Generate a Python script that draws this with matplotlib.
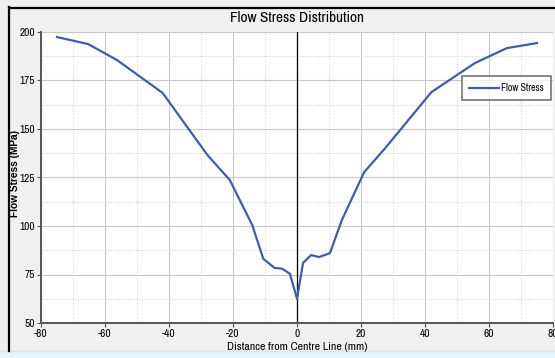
import matplotlib
matplotlib.use("Agg")
import matplotlib.pyplot as plt
from matplotlib import font_manager
from matplotlib.patches import Rectangle
from matplotlib.ticker import MultipleLocator

# Flow stress across the weld, measured from the centre line
distance_mm = [-75, -65.3, -56.3, -42, -28, -21, -14, -10.5, -7, -4.6, -2.2, 0,
               1.9, 4.4, 6.9, 10.3, 14, 21, 27.5, 42, 55.6, 65.6, 75]
flow_stress_mpa = [197.4, 193.8, 185.6, 168.6, 136.6, 123.7, 100.5, 83, 78.4, 78, 75.3, 62.5,
                   81, 85, 84, 86, 103, 127.8, 140, 169, 184, 191.7, 194.3]

title = "Flow Stress Distribution"
x_label = "Distance from Centre Line (mm)"
y_label = "Flow Stress (MPa)"
series_name = "Flow Stress"

plt.rcParams["axes.unicode_minus"] = False

# prefer a narrow sans face when one is installed
names = sorted({f.name for f in font_manager.fontManager.ttflist})
narrow_face = next((n for n in names if "Narrow" in n), None) or \
    next((n for n in names if "Condensed" in n and "Sans" in n), None)
narrow = [narrow_face, "Liberation Sans", "DejaVu Sans"] if narrow_face else ["Liberation Sans", "DejaVu Sans"]
scale = 1.0 if narrow_face else 0.86
regular = ["Liberation Sans", "DejaVu Sans"]

W, H = 555, 358
fig = plt.figure(figsize=(W / 100, H / 100), dpi=100, facecolor="#f0f0f0")

# bottom strip and outer frame
fig.patches.append(Rectangle((0, 0), 1, 7 / H, transform=fig.transFigure,
                             facecolor="#e4f6f9", edgecolor="none", zorder=0))
fig.lines.append(plt.Line2D([0, 1], [7.5 / H, 7.5 / H], transform=fig.transFigure,
                            color="#f3dede", lw=1))
fig.lines.append(plt.Line2D([8.5 / W, 8.5 / W], [7 / H, 1 - 7 / H], transform=fig.transFigure,
                            color="black", lw=1.6))
fig.lines.append(plt.Line2D([8.5 / W, 1], [1 - 7.5 / H, 1 - 7.5 / H], transform=fig.transFigure,
                            color="black", lw=1.6))

ax = fig.add_axes([41 / W, 1 - 323 / H, (553 - 41) / W, (323 - 32) / H])
ax.set_facecolor("white")

ax.set_xlim(-80, 80)
ax.set_ylim(50, 200)
ax.xaxis.set_major_locator(MultipleLocator(20))
ax.xaxis.set_minor_locator(MultipleLocator(10))
ax.yaxis.set_major_locator(MultipleLocator(25))
ax.yaxis.set_minor_locator(MultipleLocator(12.5))

ax.grid(which="major", color="#c8c8c8", lw=0.8, ls="-")
ax.grid(which="minor", color="#d6d6d6", lw=0.8, ls=(0, (1, 1.5)))
ax.set_axisbelow(True)

ax.axvline(0, color="black", lw=0.9, zorder=2)

ax.plot(distance_mm, flow_stress_mpa, color="#3f5ea9", lw=1.6, label=series_name, zorder=3)

for s in ("top", "right"):
    ax.spines[s].set_visible(False)
for s in ("left", "bottom"):
    ax.spines[s].set_color("#555555")
    ax.spines[s].set_linewidth(1.4)

ax.tick_params(which="major", direction="out", length=3, width=0.8, color="#555555",
               labelsize=8.2 * scale, pad=1)
ax.tick_params(which="minor", length=0)
for lbl in ax.get_xticklabels() + ax.get_yticklabels():
    lbl.set_family(narrow)
    lbl.set_color("black")

fig.text(297 / W, 1 - 18 / H, title, ha="center", va="center", fontsize=11 * scale, family=narrow)
fig.text(297 / W, 1 - 347 / H, x_label, ha="center", va="center", fontsize=8.5 * scale,
         family=narrow, fontweight="bold")
fig.text(15 / W, 1 - 173 / H, y_label, ha="center", va="center", rotation=90,
         fontsize=7.3, family=regular, fontweight="bold")

leg = ax.legend(loc="upper right", bbox_to_anchor=((551 - 41) / (553 - 41), 1 - (76 - 32) / (323 - 32)),
                frameon=True, fancybox=False, shadow=False,
                prop={"family": narrow, "size": 7.2 * scale},
                handlelength=3.0, borderpad=0.7, handletextpad=0.2, borderaxespad=0)
leg.get_frame().set_edgecolor("#444444")
leg.get_frame().set_linewidth(1.1)

fig.savefig("out.png", dpi=100, facecolor=fig.get_facecolor())
